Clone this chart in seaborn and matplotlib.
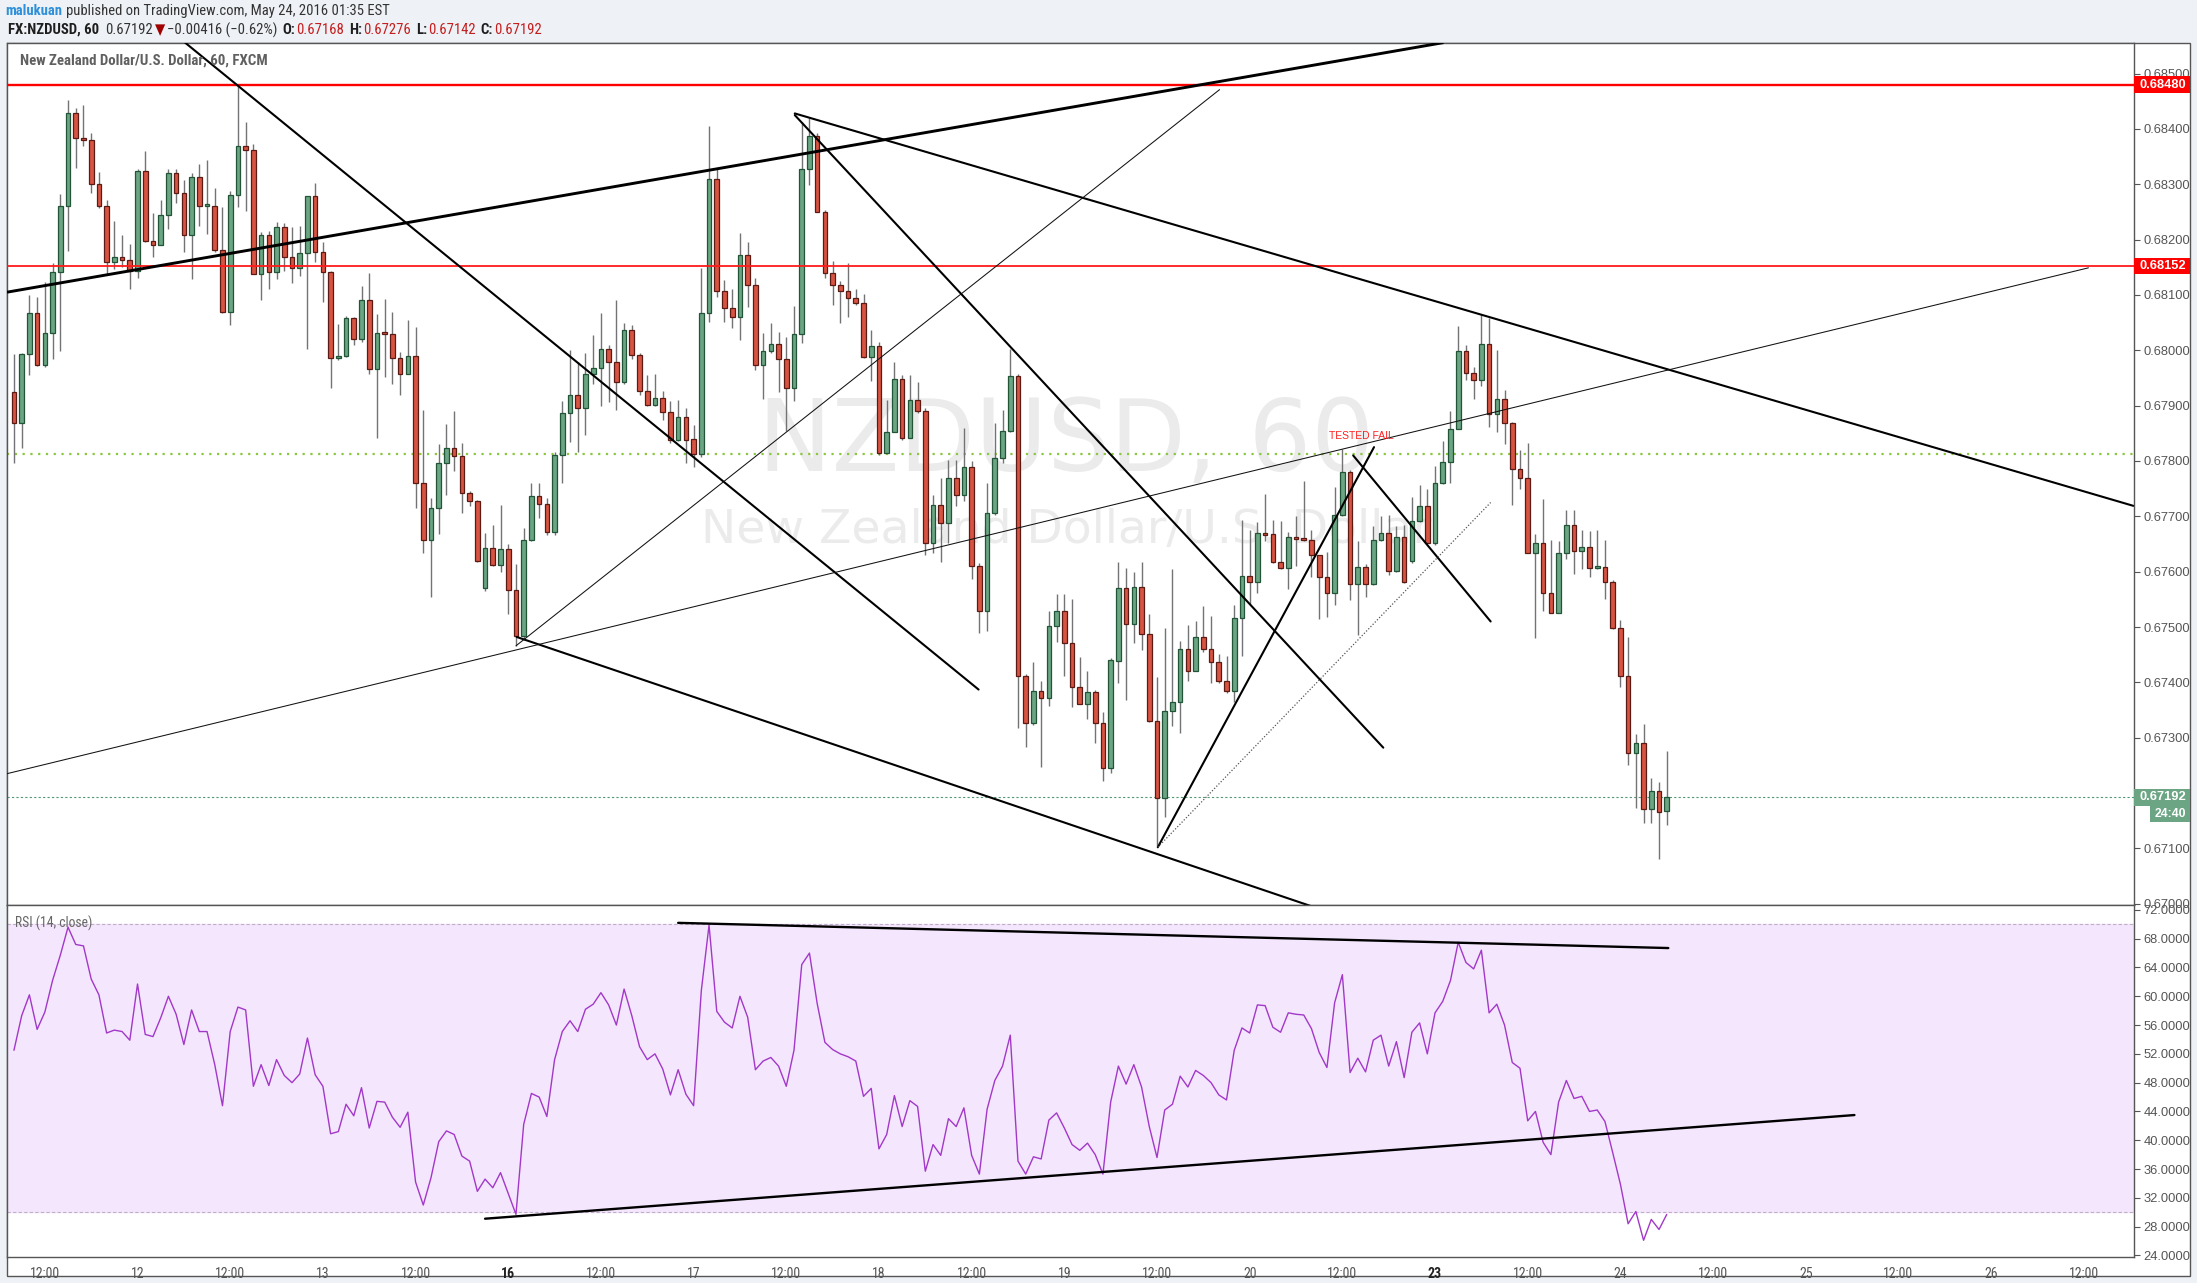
import numpy as np
import pandas as pd
import matplotlib
matplotlib.use('Agg')
import matplotlib.pyplot as plt
import seaborn as sns
from matplotlib import font_manager
from matplotlib.patches import Rectangle
from matplotlib.transforms import blended_transform_factory

sns.set_style('white')
# pick a condensed face if one is installed, otherwise Roboto
NARROW, NSTRETCH = 'Roboto', 'normal'
_entries = font_manager.fontManager.ttflist
_names = {f.name for f in _entries}
if 'Liberation Sans Narrow' in _names:
    NARROW = 'Liberation Sans Narrow'
else:
    for fam in ('Roboto Condensed', 'Open Sans Condensed', 'Noto Sans', 'Open Sans', 'DejaVu Sans', 'Roboto'):
        hit = [f for f in _entries if f.name == fam and str(f.stretch) in ('condensed', 'semi-condensed')]
        if hit:
            NARROW, NSTRETCH = fam, str(hit[0].stretch)
            break
NFAM = [NARROW, 'DejaVu Sans']
plt.rcParams['font.family'] = ['Liberation Sans', 'DejaVu Sans']

# NZDUSD 60 min candles, 11 May 08:00 -> 24 May 01:00 (bar index)
opens = [0.67925, 0.67869, 0.67993, 0.68067, 0.67973, 0.68031, 0.68141, 0.68261, 0.68429, 0.68384,
         0.68380, 0.68301, 0.68260, 0.68159, 0.68168, 0.68164, 0.68143, 0.68324, 0.68197, 0.68191,
         0.68244, 0.68321, 0.68285, 0.68208, 0.68314, 0.68261, 0.68261, 0.68182, 0.68069, 0.68280,
         0.68370, 0.68362, 0.68137, 0.68209, 0.68141, 0.68222, 0.68168, 0.68148, 0.68176, 0.68278,
         0.68177, 0.68141, 0.67986, 0.67990, 0.68058, 0.68020, 0.68091, 0.67967, 0.68031, 0.68029,
         0.67986, 0.67957, 0.67990, 0.67761, 0.67658, 0.67715, 0.67796, 0.67823, 0.67809, 0.67743,
         0.67727, 0.67570, 0.67643, 0.67612, 0.67641, 0.67566, 0.67484, 0.67657, 0.67736, 0.67723,
         0.67672, 0.67810, 0.67886, 0.67920, 0.67895, 0.67958, 0.67968, 0.68003, 0.67978, 0.67943,
         0.68037, 0.67992, 0.67927, 0.67902, 0.67914, 0.67888, 0.67838, 0.67880, 0.67839, 0.67812,
         0.68067, 0.68310, 0.68107, 0.68076, 0.68060, 0.68172, 0.68118, 0.67974, 0.67998, 0.68011,
         0.67984, 0.67932, 0.68029, 0.68327, 0.68387, 0.68249, 0.68139, 0.68118, 0.68107, 0.68095,
         0.68085, 0.67987, 0.68008, 0.67814, 0.67853, 0.67949, 0.67842, 0.67910, 0.67891, 0.67652,
         0.67720, 0.67688, 0.67770, 0.67738, 0.67790, 0.67610, 0.67529, 0.67706, 0.67805, 0.67855,
         0.67954, 0.67412, 0.67327, 0.67385, 0.67371, 0.67502, 0.67529, 0.67472, 0.67391, 0.67360,
         0.67382, 0.67327, 0.67245, 0.67439, 0.67571, 0.67506, 0.67572, 0.67488, 0.67331, 0.67191,
         0.67348, 0.67364, 0.67461, 0.67421, 0.67482, 0.67461, 0.67437, 0.67402, 0.67385, 0.67517,
         0.67593, 0.67581, 0.67669, 0.67668, 0.67617, 0.67607, 0.67663, 0.67659, 0.67657, 0.67631,
         0.67591, 0.67562, 0.67702, 0.67780, 0.67577, 0.67609, 0.67577, 0.67657, 0.67669, 0.67601,
         0.67663, 0.67619, 0.67692, 0.67718, 0.67652, 0.67760, 0.67798, 0.67858, 0.67999, 0.67959,
         0.67947, 0.68011, 0.67885, 0.67912, 0.67869, 0.67785, 0.67769, 0.67633, 0.67652, 0.67562,
         0.67526, 0.67633, 0.67685, 0.67638, 0.67644, 0.67606, 0.67609, 0.67582, 0.67498, 0.67411,
         0.67272, 0.67291, 0.67172, 0.67204, 0.67168]
highs = [0.67994, 0.67995, 0.68100, 0.68096, 0.68123, 0.68158, 0.68282, 0.68453, 0.68438, 0.68444,
         0.68393, 0.68323, 0.68272, 0.68234, 0.68209, 0.68192, 0.68328, 0.68360, 0.68248, 0.68272,
         0.68328, 0.68328, 0.68307, 0.68320, 0.68337, 0.68343, 0.68293, 0.68259, 0.68288, 0.68477,
         0.68412, 0.68372, 0.68214, 0.68216, 0.68231, 0.68230, 0.68223, 0.68225, 0.68279, 0.68302,
         0.68195, 0.68144, 0.68048, 0.68062, 0.68060, 0.68116, 0.68140, 0.68066, 0.68092, 0.68069,
         0.67997, 0.68055, 0.68042, 0.67892, 0.67734, 0.67830, 0.67866, 0.67890, 0.67832, 0.67745,
         0.67730, 0.67670, 0.67685, 0.67720, 0.67650, 0.67614, 0.67679, 0.67760, 0.67760, 0.67733,
         0.67817, 0.67908, 0.68000, 0.67979, 0.67995, 0.68027, 0.68068, 0.68010, 0.68090, 0.68050,
         0.68045, 0.67996, 0.67955, 0.67957, 0.67927, 0.67908, 0.67910, 0.67895, 0.67865, 0.68148,
         0.68406, 0.68328, 0.68127, 0.68111, 0.68212, 0.68195, 0.68130, 0.68032, 0.68049, 0.68033,
         0.68024, 0.68080, 0.68412, 0.68420, 0.68392, 0.68254, 0.68161, 0.68126, 0.68157, 0.68111,
         0.68102, 0.68037, 0.68015, 0.67910, 0.67979, 0.67956, 0.67956, 0.67943, 0.67895, 0.67739,
         0.67769, 0.67802, 0.67802, 0.67860, 0.67800, 0.67615, 0.67760, 0.67868, 0.67893, 0.68003,
         0.67958, 0.67415, 0.67436, 0.67402, 0.67529, 0.67560, 0.67559, 0.67550, 0.67445, 0.67420,
         0.67387, 0.67347, 0.67444, 0.67617, 0.67607, 0.67600, 0.67617, 0.67524, 0.67409, 0.67499,
         0.67604, 0.67475, 0.67503, 0.67511, 0.67538, 0.67520, 0.67451, 0.67447, 0.67539, 0.67694,
         0.67676, 0.67690, 0.67740, 0.67694, 0.67692, 0.67671, 0.67701, 0.67763, 0.67676, 0.67631,
         0.67635, 0.67753, 0.67822, 0.67784, 0.67656, 0.67614, 0.67683, 0.67701, 0.67702, 0.67683,
         0.67685, 0.67735, 0.67756, 0.67749, 0.67791, 0.67836, 0.67890, 0.68044, 0.68010, 0.67969,
         0.68065, 0.68059, 0.68001, 0.67928, 0.67871, 0.67819, 0.67833, 0.67668, 0.67732, 0.67657,
         0.67656, 0.67711, 0.67712, 0.67675, 0.67673, 0.67675, 0.67657, 0.67585, 0.67512, 0.67482,
         0.67307, 0.67325, 0.67227, 0.67220, 0.67276]
lows = [0.67797, 0.67823, 0.67955, 0.67972, 0.67970, 0.67984, 0.67998, 0.68180, 0.68330, 0.68369,
        0.68285, 0.68258, 0.68138, 0.68146, 0.68150, 0.68110, 0.68131, 0.68195, 0.68168, 0.68191,
        0.68219, 0.68267, 0.68178, 0.68129, 0.68225, 0.68210, 0.68177, 0.68067, 0.68045, 0.68259,
        0.68252, 0.68137, 0.68090, 0.68110, 0.68129, 0.68144, 0.68121, 0.68135, 0.68002, 0.68160,
        0.68087, 0.67932, 0.67982, 0.67988, 0.68009, 0.68015, 0.67958, 0.67842, 0.67952, 0.67940,
        0.67919, 0.67957, 0.67715, 0.67634, 0.67555, 0.67668, 0.67738, 0.67781, 0.67706, 0.67718,
        0.67617, 0.67565, 0.67610, 0.67600, 0.67523, 0.67466, 0.67477, 0.67655, 0.67697, 0.67666,
        0.67666, 0.67761, 0.67835, 0.67817, 0.67847, 0.67940, 0.67900, 0.67907, 0.67892, 0.67940,
        0.67984, 0.67919, 0.67900, 0.67900, 0.67874, 0.67832, 0.67837, 0.67797, 0.67790, 0.67808,
        0.68051, 0.68096, 0.68051, 0.68041, 0.68019, 0.68078, 0.67964, 0.67912, 0.67995, 0.67925,
        0.67854, 0.67908, 0.68013, 0.68298, 0.68249, 0.68131, 0.68081, 0.68049, 0.68061, 0.68082,
        0.67986, 0.67945, 0.67810, 0.67814, 0.67852, 0.67838, 0.67841, 0.67886, 0.67631, 0.67634,
        0.67617, 0.67652, 0.67718, 0.67728, 0.67586, 0.67490, 0.67493, 0.67703, 0.67797, 0.67852,
        0.67318, 0.67284, 0.67323, 0.67247, 0.67358, 0.67473, 0.67412, 0.67355, 0.67360, 0.67333,
        0.67290, 0.67222, 0.67236, 0.67399, 0.67368, 0.67472, 0.67458, 0.67329, 0.67104, 0.67156,
        0.67322, 0.67309, 0.67402, 0.67420, 0.67454, 0.67399, 0.67399, 0.67381, 0.67364, 0.67447,
        0.67541, 0.67562, 0.67656, 0.67615, 0.67604, 0.67569, 0.67610, 0.67656, 0.67590, 0.67515,
        0.67518, 0.67539, 0.67701, 0.67548, 0.67486, 0.67555, 0.67576, 0.67656, 0.67594, 0.67600,
        0.67579, 0.67615, 0.67690, 0.67652, 0.67649, 0.67758, 0.67760, 0.67857, 0.67947, 0.67912,
        0.67935, 0.67862, 0.67853, 0.67830, 0.67721, 0.67749, 0.67633, 0.67480, 0.67529, 0.67525,
        0.67525, 0.67622, 0.67595, 0.67604, 0.67590, 0.67604, 0.67551, 0.67496, 0.67392, 0.67250,
        0.67173, 0.67145, 0.67145, 0.67080, 0.67142]
closes = [0.67869, 0.67993, 0.68067, 0.67973, 0.68031, 0.68141, 0.68261, 0.68429, 0.68384, 0.68380,
          0.68301, 0.68260, 0.68159, 0.68168, 0.68164, 0.68143, 0.68324, 0.68197, 0.68191, 0.68244,
          0.68321, 0.68285, 0.68208, 0.68314, 0.68261, 0.68262, 0.68182, 0.68069, 0.68280, 0.68370,
          0.68362, 0.68137, 0.68209, 0.68141, 0.68222, 0.68168, 0.68148, 0.68176, 0.68278, 0.68177,
          0.68141, 0.67986, 0.67990, 0.68058, 0.68020, 0.68091, 0.67967, 0.68031, 0.68029, 0.67986,
          0.67957, 0.67990, 0.67761, 0.67658, 0.67715, 0.67796, 0.67823, 0.67809, 0.67743, 0.67727,
          0.67620, 0.67643, 0.67612, 0.67641, 0.67566, 0.67484, 0.67657, 0.67736, 0.67723, 0.67672,
          0.67810, 0.67886, 0.67920, 0.67895, 0.67958, 0.67968, 0.68003, 0.67978, 0.67943, 0.68037,
          0.67992, 0.67927, 0.67902, 0.67914, 0.67888, 0.67838, 0.67880, 0.67838, 0.67812, 0.68067,
          0.68310, 0.68107, 0.68076, 0.68060, 0.68172, 0.68118, 0.67974, 0.67998, 0.68011, 0.67985,
          0.67932, 0.68029, 0.68327, 0.68387, 0.68249, 0.68139, 0.68118, 0.68107, 0.68095, 0.68085,
          0.67987, 0.68008, 0.67814, 0.67853, 0.67949, 0.67842, 0.67910, 0.67891, 0.67652, 0.67720,
          0.67688, 0.67770, 0.67738, 0.67790, 0.67610, 0.67529, 0.67706, 0.67805, 0.67855, 0.67954,
          0.67412, 0.67327, 0.67385, 0.67371, 0.67502, 0.67529, 0.67472, 0.67391, 0.67360, 0.67382,
          0.67327, 0.67245, 0.67440, 0.67571, 0.67506, 0.67572, 0.67488, 0.67331, 0.67191, 0.67348,
          0.67364, 0.67461, 0.67421, 0.67482, 0.67461, 0.67437, 0.67402, 0.67385, 0.67517, 0.67593,
          0.67581, 0.67669, 0.67666, 0.67617, 0.67607, 0.67663, 0.67659, 0.67657, 0.67631, 0.67591,
          0.67562, 0.67702, 0.67780, 0.67577, 0.67609, 0.67577, 0.67657, 0.67669, 0.67601, 0.67663,
          0.67581, 0.67692, 0.67718, 0.67652, 0.67760, 0.67798, 0.67858, 0.67999, 0.67959, 0.67947,
          0.68011, 0.67885, 0.67912, 0.67869, 0.67785, 0.67769, 0.67633, 0.67652, 0.67562, 0.67526,
          0.67633, 0.67685, 0.67638, 0.67644, 0.67606, 0.67609, 0.67582, 0.67498, 0.67411, 0.67272,
          0.67291, 0.67172, 0.67204, 0.67165, 0.67192]
rsi = [52.5, 57.3, 60.2, 55.4, 57.8, 62.2, 65.7, 69.6, 67.2, 67.0,
       62.4, 60.2, 54.9, 55.3, 55.1, 53.9, 61.7, 54.7, 54.4, 57.0,
       60.0, 57.5, 53.3, 58.1, 55.1, 55.1, 50.5, 44.8, 55.1, 58.5,
       58.1, 47.5, 50.5, 47.6, 51.2, 49.0, 48.0, 49.2, 54.2, 49.1,
       47.5, 40.9, 41.2, 45.0, 43.4, 47.3, 41.7, 45.4, 45.3, 43.2,
       41.8, 43.9, 34.2, 31.0, 34.8, 39.8, 41.3, 40.8, 37.8, 37.1,
       32.9, 34.6, 33.4, 35.5, 32.6, 29.7, 42.2, 46.5, 46.0, 43.3,
       51.2, 55.1, 56.6, 55.1, 58.2, 58.9, 60.5, 58.8, 56.0, 61.0,
       57.3, 53.0, 51.2, 52.0, 49.9, 46.3, 49.8, 46.4, 44.8, 60.8,
       69.9, 57.9, 56.4, 55.6, 60.0, 57.1, 49.8, 51.0, 51.5, 50.3,
       47.5, 52.5, 64.4, 66.0, 59.0, 53.6, 52.6, 52.0, 51.6, 51.0,
       46.1, 47.2, 38.8, 40.8, 46.2, 41.9, 45.5, 44.7, 35.7, 39.4,
       37.9, 43.0, 41.9, 44.5, 37.9, 35.3, 44.3, 48.3, 50.3, 54.6,
       37.1, 35.3, 37.7, 37.4, 42.8, 43.8, 41.7, 39.4, 38.6, 39.6,
       38.0, 35.3, 45.3, 50.3, 47.8, 50.5, 47.4, 41.9, 37.6, 44.2,
       45.0, 48.9, 47.4, 49.7, 49.0, 48.0, 46.3, 45.6, 52.5, 55.6,
       54.9, 58.8, 58.7, 55.7, 55.0, 57.7, 57.5, 57.4, 55.5, 52.2,
       50.1, 59.1, 63.0, 49.4, 51.4, 49.5, 53.9, 54.6, 50.3, 53.7,
       48.7, 55.0, 56.3, 52.0, 57.7, 59.3, 62.2, 67.5, 64.7, 63.8,
       66.4, 57.7, 58.9, 56.0, 50.8, 50.0, 42.7, 44.0, 39.7, 38.0,
       45.3, 48.3, 45.8, 46.1, 44.0, 44.2, 42.6, 38.3, 33.9, 28.4,
       30.1, 26.1, 29.0, 27.6, 29.7]

tick_pos = [4, 16, 28, 40, 52, 64, 76, 88, 100, 112, 124, 136, 148, 160, 172, 184, 196, 208, 220, 232, 244, 256, 268]
tick_labels = ['12:00', '12', '12:00', '13', '12:00', '16', '12:00', '17', '12:00', '18', '12:00', '19',
               '12:00', '20', '12:00', '23', '12:00', '24', '12:00', '25', '12:00', '26', '12:00']

# horizontal levels
resist_hi = 0.68480
resist_lo = 0.68152
mid_level = 0.67813
last_price = 0.67192

# drawn trend lines (bar, price) -> (bar, price)
thick_lines = [(-0.9, 0.68105, 185.1, 0.68556)]
mid_lines = [(22.15, 0.68556, 124.9, 0.67387),
             (65.1, 0.67482, 170.2, 0.66985),
             (101.1, 0.68428, 274.4, 0.67719),
             (101.1, 0.68425, 177.3, 0.67282),
             (148.1, 0.67102, 176.1, 0.67825),
             (173.4, 0.67810, 191.2, 0.67510)]
thin_lines = [(65.0, 0.67466, 156.1, 0.68471),
              (-0.9, 0.67235, 268.6, 0.68149)]
dotted_lines = [(148.1, 0.67102, 191.2, 0.67725)]
rsi_lines = [(86.0, 70.2, 214.2, 66.7),
             (61.0, 29.1, 238.3, 43.5)]

df = pd.DataFrame({'open': opens, 'high': highs, 'low': lows, 'close': closes, 'rsi': rsi})
df['bar'] = np.arange(len(df))

W, H = 2197, 1283
fig = plt.figure(figsize=(W / 100, H / 100), dpi=100, facecolor='#eef2f6')
renderer = fig.canvas.get_renderer()

frame = Rectangle((7 / W, 1 - 1276 / H), (2190 - 7) / W, (1276 - 42.7) / H,
                  transform=fig.transFigure, facecolor='white', edgecolor='#555555', lw=1, zorder=-1)
fig.add_artist(frame)

ax = fig.add_axes([7 / W, 1 - 905 / H, (2134 - 7) / W, (905 - 42.7) / H])
rax = fig.add_axes([7 / W, 1 - 1257 / H, (2134 - 7) / W, (1257 - 905) / H], sharex=ax)

# candles
up = df['close'] >= df['open']
body_bot = np.minimum(df['open'], df['close'])
body_h = np.maximum((df['close'] - df['open']).abs(), 0.00004)
ax.vlines(df['bar'], df['low'], df['high'], color='#737375', lw=1, zorder=2)
ax.bar(df['bar'][up], body_h[up], bottom=body_bot[up], width=0.6,
       color='#6ba583', edgecolor='#225437', linewidth=0.9, zorder=3)
ax.bar(df['bar'][~up], body_h[~up], bottom=body_bot[~up], width=0.6,
       color='#d75442', edgecolor='#5b1a13', linewidth=0.9, zorder=3)

# levels
ax.axhline(resist_hi, color='#ff0000', lw=1.7, zorder=4)
ax.axhline(resist_lo, color='#ff1a1a', lw=1.3, zorder=4)
ax.axhline(mid_level, color='#8cc63f', lw=1.6, ls=(0, (1, 2.5)), zorder=1)
ax.axhline(last_price, color='#4f9a74', lw=0.8, ls=(0, (2, 2)), zorder=1)

for x0, y0, x1, y1 in thick_lines:
    ax.plot([x0, x1], [y0, y1], color='black', lw=2.1, zorder=5, solid_capstyle='butt')
for x0, y0, x1, y1 in mid_lines:
    ax.plot([x0, x1], [y0, y1], color='black', lw=1.5, zorder=5)
for x0, y0, x1, y1 in thin_lines:
    ax.plot([x0, x1], [y0, y1], color='#111111', lw=0.75, zorder=5)
for x0, y0, x1, y1 in dotted_lines:
    ax.plot([x0, x1], [y0, y1], color='#555555', lw=0.9, ls=(0, (1, 1.5)), zorder=5)

ax.text(174.4, 0.67845, 'TESTED FAIL', color='#ff2020', fontsize=7.5, ha='center', va='center', zorder=6)

# watermark
ax.text(0.498, 0.535, 'NZDUSD, 60', transform=ax.transAxes, ha='center', va='center',
        fontsize=71, color='#ebebeb', family='DejaVu Sans', zorder=0.5)
ax.text(0.498, 0.434, 'New Zealand Dollar/U.S. Dollar', transform=ax.transAxes, ha='center', va='center',
        fontsize=34, color='#ebebeb', family='DejaVu Sans', zorder=0.5)


def fit_text(x_px, y_px, pieces, size, target_w):
    # pieces: (text, color, weight, family, gap); scaled so the run spans target_w pixels
    for attempt in range(2):
        x = x_px
        made = []
        for s, color, weight, fam, gap in pieces:
            t = fig.text(x / W, 1 - y_px / H, s, ha='left', va='center', color=color, fontsize=size,
                         fontweight=weight, family=fam, fontstretch=NSTRETCH)
            made.append(t)
            x = t.get_window_extent(renderer).x1 + gap
        if attempt == 0:
            size = size * target_w / (x - x_px)
            for t in made:
                t.remove()


fit_text(20, 61, [('New Zealand Dollar/U.S. Dollar, 60, FXCM', '#606060', 'bold', NFAM, 0)], 10, 247)

ax.set_xlim(-0.9, 274.5)
ax.set_ylim(0.669977, 0.685558)

# RSI panel
rax.axhspan(30, 70, color='#f4e6fd', zorder=0)
rax.axhline(70, color='#bfaec8', lw=0.8, ls=(0, (3, 2)), zorder=1)
rax.axhline(30, color='#bfaec8', lw=0.8, ls=(0, (3, 2)), zorder=1)
sns.lineplot(x='bar', y='rsi', data=df, ax=rax, color='#a238c8', lw=1, zorder=3)
for x0, y0, x1, y1 in rsi_lines:
    rax.plot([x0, x1], [y0, y1], color='black', lw=1.7, zorder=4)
fit_text(15, 923, [('RSI (14, close)', '#666666', 'normal', NFAM, 0)], 9, 78)
rax.set_ylim(23.78, 72.68)
rax.set_xlabel('')
rax.set_ylabel('')

# axes styling
for a in (ax, rax):
    for s in a.spines.values():
        s.set_color('#555555')
        s.set_linewidth(1)
    a.yaxis.tick_right()
    a.tick_params(axis='y', direction='out', length=4, width=0.8, color='#555555',
                  labelsize=9.3, labelcolor='#555555', pad=3)
    a.grid(False)

ax.set_yticks(np.round(np.arange(0.670, 0.6855, 0.001), 3))
ax.set_yticklabels([f'{v:.5f}' for v in np.arange(0.670, 0.6855, 0.001)])
rax.set_yticks(range(24, 73, 4))
rax.set_yticklabels([f'{v:.4f}' for v in range(24, 73, 4)])
ax.tick_params(axis='x', bottom=False, labelbottom=False)
rax.set_xticks(tick_pos)
rax.set_xticklabels(tick_labels)
rax.tick_params(axis='x', direction='out', length=4, width=0.8, color='#555555',
                labelsize=10, labelcolor='#555555', pad=3)
for lab in rax.get_xticklabels():
    lab.set_family(NFAM)
    lab.set_fontstretch(NSTRETCH)
    if lab.get_text() in ('16', '23'):
        lab.set_color('#222222')
        lab.set_fontweight('bold')

# price labels on right axis
bt = blended_transform_factory(fig.transFigure, ax.transData)
for lvl, col in ((resist_hi, '#ff0000'), (resist_lo, '#ff0000'), (last_price, '#6ba583')):
    fig.add_artist(Rectangle((2134 / W, lvl - 0.00015), (2190 - 2134) / W, 0.0003,
                             transform=bt, facecolor=col, edgecolor='none', zorder=5))
    fig.text(2140 / W, lvl, f'{lvl:.5f}', transform=bt, ha='left', va='center', color='white',
             fontsize=9.3, fontweight='bold', zorder=6)
fig.add_artist(Rectangle((2150 / W, last_price - 0.00045), (2190 - 2150) / W, 0.00029,
                         transform=bt, facecolor='#6ba583', edgecolor='none', zorder=5))
fig.text(2170 / W, last_price - 0.000305, '24:40', transform=bt, ha='center', va='center',
         color='white', fontsize=8.8, fontweight='bold', zorder=6)

# header
fit_text(5, 11, [('malukuan', '#2f8fd8', 'bold', NFAM, 4),
                 ('published on TradingView.com, May 24, 2016 01:35 EST', '#333333', 'normal', NFAM, 0)],
         11, 383)
red = '#c41e1e'
fit_text(8, 30, [('FX:NZDUSD, 60', '#1e1e1e', 'bold', NFAM, 6),
                 ('0.67192', '#333333', 'normal', NFAM, 2),
                 ('\u25bc', '#a00000', 'normal', ['DejaVu Sans'], 2),
                 ('\u22120.00416 (\u22120.62%)', '#333333', 'normal', NFAM, 5),
                 ('O:', '#1e1e1e', 'bold', NFAM, 1),
                 ('0.67168', red, 'normal', NFAM, 5),
                 ('H:', '#1e1e1e', 'bold', NFAM, 1),
                 ('0.67276', red, 'normal', NFAM, 5),
                 ('L:', '#1e1e1e', 'bold', NFAM, 1),
                 ('0.67142', red, 'normal', NFAM, 5),
                 ('C:', '#1e1e1e', 'bold', NFAM, 1),
                 ('0.67192', red, 'normal', NFAM, 0)], 11, 533)

fig.savefig('out.png', dpi=100, facecolor=fig.get_facecolor())
